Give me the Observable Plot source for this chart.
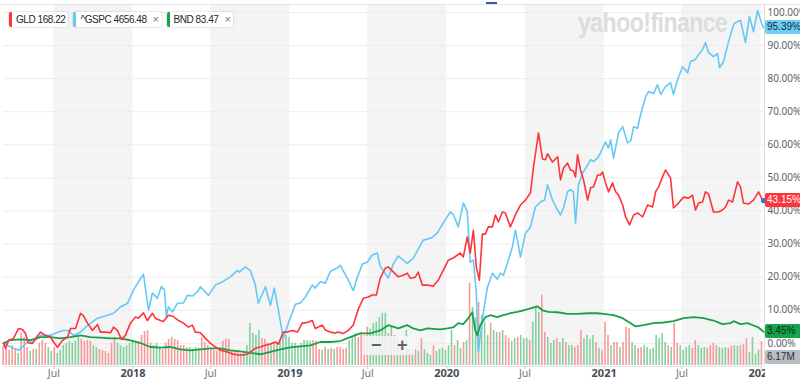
<!DOCTYPE html>
<html><head><meta charset="utf-8">
<script src="https://cdn.jsdelivr.net/npm/d3@7"></script>
<script src="https://cdn.jsdelivr.net/npm/@observablehq/plot@0.6"></script>
<style>
html,body{margin:0;padding:0;background:#fff;}
#wrap{position:relative;width:800px;height:389px;overflow:hidden;background:#fff;font-family:"Helvetica Neue",Helvetica,Arial,"Liberation Sans",sans-serif;}
#wrap svg{position:absolute;left:0;top:0;}
#chips{position:absolute;left:9px;top:12px;display:flex;gap:5px;}
.chip{position:relative;height:15px;line-height:15px;background:#fff;box-shadow:0 0 2px rgba(0,0,0,.28);border-radius:2px;font-size:10px;letter-spacing:-0.45px;color:#26282a;padding:0 3px 0 7px;white-space:nowrap;}
.chip .bar{position:absolute;left:0;top:0;width:3px;height:15px;border-radius:2px 0 0 2px;}
.chip .x{color:#6e7780;margin-left:6px;font-size:11px;}
.badge{position:absolute;left:765px;width:35px;height:14px;line-height:14px;font-size:10px;padding-left:2px;border-radius:2px 0 0 2px;box-sizing:border-box;white-space:nowrap;overflow:hidden;}
#wm{position:absolute;left:578px;top:7px;font-size:23px;font-weight:bold;color:#dcdde0;letter-spacing:-0.5px;transform:scale(1,1.2);transform-origin:left top;}
#topline{position:absolute;left:0;top:4px;width:800px;height:1px;background:#e4e4e4;}
#dash{position:absolute;left:486px;top:2px;width:11px;height:2px;background:#3f51b5;}
#zoomctl{position:absolute;left:362px;top:336px;width:53px;height:19px;background:rgba(246,246,246,0.85);border-radius:3px;color:#5f6368;font-size:18px;font-weight:bold;line-height:19px;}
#zoomctl span{position:absolute;top:0;}
#cover{position:absolute;left:765px;top:368px;width:35px;height:21px;background:#fff;}
</style></head>
<body><div id="wrap"></div>
<script>
// ---------- data ----------
// series: [decimal year, % change]
const gspcSeries = [[2017.175,0],[2017.220,-1.1],[2017.271,-2.1],[2017.328,0.4],[2017.366,0.4],[2017.411,2.4],[2017.474,2.4],[2017.525,3.4],[2017.557,3.9],[2017.589,3.9],[2017.621,2.4],[2017.666,3.4],[2017.710,5.4],[2017.774,7.6],[2017.838,8.5],[2017.876,9.1],[2017.920,11.0],[2017.965,12.1],[2018.003,16.1],[2018.035,18.6],[2018.067,20.9],[2018.099,10.0],[2018.124,15.2],[2018.156,13.6],[2018.181,17.2],[2018.201,16.1],[2018.213,8.0],[2018.226,11.0],[2018.252,9.5],[2018.283,12.1],[2018.322,12.2],[2018.347,14.5],[2018.379,14.3],[2018.411,15.6],[2018.430,17.1],[2018.481,14.5],[2018.525,17.6],[2018.570,18.6],[2018.621,20.1],[2018.666,22.1],[2018.678,21.5],[2018.716,23.1],[2018.748,22.0],[2018.780,17.6],[2018.799,12.1],[2018.844,17.1],[2018.876,11.5],[2018.901,16.7],[2018.927,10.0],[2018.958,1.5],[2018.990,6.1],[2019.035,11.8],[2019.067,12.2],[2019.099,14.0],[2019.143,17.6],[2019.162,16.7],[2019.194,18.6],[2019.226,18.2],[2019.258,21.8],[2019.302,22.8],[2019.321,23.6],[2019.366,19.7],[2019.404,15.9],[2019.430,20.0],[2019.462,24.0],[2019.493,24.5],[2019.525,26.7],[2019.557,27.3],[2019.576,23.3],[2019.627,19.7],[2019.659,24.0],[2019.691,26.4],[2019.748,24.2],[2019.786,25.7],[2019.850,31.2],[2019.876,31.5],[2019.907,32.0],[2019.939,33.3],[2019.978,36.4],[2020.022,39.7],[2020.041,39.0],[2020.073,35.2],[2020.105,42.4],[2020.130,40.0],[2020.149,24.5],[2020.169,25.2],[2020.188,15.2],[2020.200,-2.7],[2020.232,9.1],[2020.258,16.9],[2020.290,21.2],[2020.321,19.4],[2020.341,21.2],[2020.360,20.6],[2020.385,24.2],[2020.417,29.1],[2020.436,34.2],[2020.449,31.2],[2020.468,26.1],[2020.500,33.3],[2020.532,35.2],[2020.563,41.2],[2020.595,42.7],[2020.621,43.3],[2020.640,47.9],[2020.672,43.3],[2020.704,40.3],[2020.723,38.8],[2020.742,41.0],[2020.767,45.8],[2020.786,46.5],[2020.805,45.8],[2020.818,36.4],[2020.837,47.9],[2020.863,51.5],[2020.895,53.9],[2020.914,55.5],[2020.933,55.0],[2020.958,56.0],[2020.977,57.6],[2021.009,60.9],[2021.028,59.0],[2021.041,61.5],[2021.060,56.0],[2021.092,63.6],[2021.118,65.5],[2021.149,60.6],[2021.169,61.2],[2021.188,65.5],[2021.213,65.0],[2021.232,69.1],[2021.264,74.5],[2021.283,76.1],[2021.315,75.5],[2021.340,78.2],[2021.360,75.2],[2021.391,77.6],[2021.423,78.8],[2021.442,75.2],[2021.468,79.7],[2021.500,83.6],[2021.519,82.7],[2021.532,81.8],[2021.551,85.2],[2021.582,85.8],[2021.602,87.3],[2021.627,88.8],[2021.646,90.9],[2021.665,87.9],[2021.697,86.7],[2021.723,87.6],[2021.735,83.3],[2021.761,85.2],[2021.793,91.2],[2021.825,96.4],[2021.850,97.3],[2021.869,97.6],[2021.901,90.9],[2021.926,98.8],[2021.952,94.2],[2021.978,100.6],[2022.009,96.0],[2022.016,95.39]];

const gldSeries = [[2017.175,0],[2017.188,-1.5],[2017.207,0.9],[2017.239,1.5],[2017.271,4.5],[2017.296,4.2],[2017.315,3.0],[2017.334,0.1],[2017.360,0],[2017.379,1.5],[2017.411,3.4],[2017.443,2.4],[2017.474,2.0],[2017.494,0.4],[2017.519,-1.2],[2017.551,0.9],[2017.583,1.9],[2017.602,4.5],[2017.634,4.5],[2017.666,9.1],[2017.685,8.3],[2017.710,6.1],[2017.742,3.9],[2017.774,5.7],[2017.793,3.4],[2017.825,3.4],[2017.857,3.2],[2017.876,4.9],[2017.901,3.9],[2017.927,1.2],[2017.952,2.4],[2017.984,6.1],[2018.016,8.0],[2018.035,7.6],[2018.067,9.2],[2018.092,6.9],[2018.124,9.1],[2018.143,7.6],[2018.175,6.9],[2018.194,6.6],[2018.226,8.5],[2018.258,8.1],[2018.290,6.9],[2018.322,6.1],[2018.353,4.9],[2018.379,5.5],[2018.398,3.4],[2018.430,3.2],[2018.462,1.5],[2018.494,0],[2018.525,-1.1],[2018.557,-2.1],[2018.602,-2.6],[2018.640,-3.3],[2018.685,-3.6],[2018.729,-3.3],[2018.748,-2.6],[2018.780,-1.5],[2018.812,-1.1],[2018.844,-0.6],[2018.876,-0.2],[2018.908,0.4],[2018.927,-0.2],[2018.958,3.4],[2018.984,3.4],[2019.016,3.9],[2019.048,3.4],[2019.079,6.1],[2019.111,6.3],[2019.143,6.9],[2019.162,4.5],[2019.207,5.5],[2019.226,4.0],[2019.258,3.4],[2019.290,3.1],[2019.309,3.4],[2019.341,3.0],[2019.372,3.9],[2019.404,5.5],[2019.436,10.3],[2019.468,13.6],[2019.500,14.0],[2019.525,14.6],[2019.551,14.6],[2019.576,19.7],[2019.608,22.7],[2019.627,23.1],[2019.659,21.6],[2019.691,20.1],[2019.723,20.6],[2019.748,21.2],[2019.767,19.7],[2019.799,20.0],[2019.818,21.5],[2019.844,17.6],[2019.876,17.6],[2019.914,17.3],[2019.946,19.1],[2019.978,22.1],[2020.009,25.1],[2020.041,25.8],[2020.086,27.3],[2020.105,26.1],[2020.130,32.1],[2020.149,27.3],[2020.169,34.2],[2020.188,23.0],[2020.207,19.1],[2020.226,33.0],[2020.245,33.0],[2020.264,35.2],[2020.290,35.2],[2020.309,38.8],[2020.328,36.7],[2020.353,39.7],[2020.372,39.4],[2020.404,35.2],[2020.436,38.8],[2020.468,41.8],[2020.500,43.3],[2020.532,45.5],[2020.551,53.3],[2020.583,63.6],[2020.608,55.8],[2020.627,55.5],[2020.640,57.3],[2020.672,54.8],[2020.704,56.4],[2020.723,49.4],[2020.742,53.0],[2020.767,54.5],[2020.786,52.4],[2020.805,52.1],[2020.818,50.3],[2020.831,57.0],[2020.850,52.4],[2020.869,49.4],[2020.895,43.3],[2020.914,47.0],[2020.933,47.3],[2020.958,50.9],[2020.977,50.9],[2020.990,51.8],[2021.009,48.5],[2021.028,45.8],[2021.054,48.5],[2021.073,45.8],[2021.092,44.8],[2021.118,41.8],[2021.137,38.2],[2021.162,35.8],[2021.188,38.8],[2021.213,39.4],[2021.245,38.2],[2021.277,41.8],[2021.309,41.2],[2021.328,45.8],[2021.347,47.3],[2021.372,50.3],[2021.391,52.4],[2021.423,50.0],[2021.442,40.9],[2021.474,42.4],[2021.506,44.2],[2021.538,43.9],[2021.563,44.8],[2021.582,40.3],[2021.602,42.4],[2021.627,42.7],[2021.646,45.8],[2021.665,45.2],[2021.697,39.7],[2021.729,39.7],[2021.754,40.3],[2021.774,41.2],[2021.793,43.3],[2021.818,42.7],[2021.850,48.8],[2021.869,47.3],[2021.888,42.4],[2021.920,42.1],[2021.952,43.3],[2021.984,45.8],[2022.009,43.3],[2022.016,43.15]];

const bndSeries = [[2017.175,0],[2017.220,1.0],[2017.283,1.2],[2017.347,1.0],[2017.411,1.9],[2017.474,1.9],[2017.538,1.5],[2017.602,1.9],[2017.666,2.4],[2017.729,1.9],[2017.793,1.7],[2017.857,1.5],[2017.920,1.5],[2017.984,0.9],[2018.048,0.1],[2018.111,-1.1],[2018.175,-1.3],[2018.239,-1.1],[2018.302,-1.8],[2018.366,-2.1],[2018.430,-1.8],[2018.494,-1.5],[2018.557,-1.5],[2018.621,-2.1],[2018.685,-2.4],[2018.748,-2.9],[2018.812,-3.3],[2018.876,-2.6],[2018.939,-1.8],[2019.003,-1.2],[2019.067,-0.9],[2019.130,-0.6],[2019.194,0.4],[2019.258,0.4],[2019.321,0.7],[2019.385,1.9],[2019.449,3.0],[2019.513,3.0],[2019.576,3.9],[2019.627,5.5],[2019.691,4.5],[2019.748,5.5],[2019.786,4.5],[2019.831,3.9],[2019.876,4.5],[2019.958,4.2],[2020.003,4.5],[2020.041,4.8],[2020.073,6.1],[2020.105,5.8],[2020.137,7.6],[2020.162,9.4],[2020.181,3.9],[2020.194,2.4],[2020.213,5.5],[2020.245,7.9],[2020.277,8.5],[2020.321,7.9],[2020.360,8.5],[2020.404,9.1],[2020.449,9.5],[2020.487,10.0],[2020.532,10.6],[2020.576,11.2],[2020.608,10.0],[2020.646,9.5],[2020.704,9.4],[2020.767,8.9],[2020.831,8.9],[2020.895,9.1],[2020.958,9.1],[2020.997,8.9],[2021.060,8.5],[2021.118,7.6],[2021.169,6.1],[2021.200,5.1],[2021.251,5.5],[2021.315,6.1],[2021.379,6.3],[2021.442,6.7],[2021.506,7.6],[2021.570,7.9],[2021.633,7.6],[2021.697,6.9],[2021.754,5.8],[2021.805,6.1],[2021.825,6.7],[2021.869,5.8],[2021.914,6.1],[2021.952,5.4],[2021.984,4.8],[2022.016,3.45]];

// weekly volume (millions) and direction (r = down week, g = up week)
const volumeStart = "2017-03-05";
const volumeValues = [4.9,4.4,3.9,5.1,4.1,3.1,8.2,7.2,4.6,3.6, 4.1,4.1,5.7,6.4,5.7,4.6,3.6,4.6,3.1,3.9, 5.1,5.7,6.2,5.7,6.2,7.5,6.7,6.2,6.4,6.2, 5.1,4.6,4.1,3.9,3.6,3.1,5.7,7.2,5.7,5.1, 4.6,5.1,5.7,6.2,5.7,6.2,7.7,8.7,9.0,5.7, 5.1,5.7,4.6,4.1,5.7,6.7,7.2,6.7,6.4,5.1, 5.1,4.6,4.6,4.1,4.6,4.4,7.2,5.9,5.1,4.1, 3.9,3.6,3.9,6.2,6.7,6.7,3.9,3.6,3.3,3.1, 3.6,5.1,10.8,8.2,7.7,9.0,6.9,6.7,5.7,5.7, 5.7,5.7,6.2,7.7,7.7,7.2,5.7,5.7,5.1,5.7, 6.4,6.4,6.2,6.4,6.2,4.1,3.9,4.6,4.1,4.4, 4.1,4.6,4.6,4.1,4.4,6.4,7.2,8.2,7.2,8.5, 7.7,9.8,9.3,10.8,11.1,12.3,13.4,13.4,8.2,9.8, 7.7,6.7,5.1,4.6,9.0,4.1,4.1,4.1,3.6,6.9, 4.1,3.1,2.6,5.1,3.6,4.1,4.4,3.9,5.1,9.0, 5.1,6.4,4.4,5.9,6.4,21.1,14.9,12.3,16.2,12.9, 11.1,7.7,10.8,9.0,8.5,8.5,9.0,7.7,6.9,6.2, 6.9,7.2,7.7,6.9,6.9,6.4,11.1,14.9,13.6,18.0, 8.5,7.2,5.7,6.4,6.9,5.9,6.9,5.9,5.1,5.1, 4.6,5.1,9.0,6.9,7.7,6.7,7.7,5.9,4.4,3.9, 11.1,7.7,5.1,5.9,5.9,4.6,5.9,9.8,9.5,5.9, 5.1,4.4,4.6,5.1,4.6,4.1,4.4,7.7,6.9,8.2, 5.9,5.1,4.6,10.8,5.7,5.1,3.9,4.6,5.1,4.4, 6.4,5.1,4.4,4.6,4.4,5.1,5.7,5.1,4.6,4.4, 4.6,4.4,4.9,5.1,4.9,5.1,5.4,6.9,3.3,7.2, 2.8,3.9,6.17];
const volumeDirs = ("rrrrrgrrrg"+"rgrrrggrgg"+"ggggggrrrr"+"ggrrrrrrgg"+"gggggrrrrr"+"gggrrrrrrr"+"rrggggrrrr"+"rrrrrrrrrr"+"ggggggrrrg"+"rggggggggg"+"gggrrrgrgr"+"grrrrgggrr"+"rrggggggrg"+"rggrgrgrgr"+"gggrgggggg"+"rggrgrggrg"+"ggrggrgrrg"+"grgggrgggr"+"rgggrggrgg"+"rrrggggrgr"+"rrgrrgrrrg"+"grrggggggg"+"grgrrggggr"+"rgggrrrrgg"+"grrggrrrgg"+"ggr").split("");

const yTicks = [0,10,20,30,40,50,60,70,80,90,100];
const xTickDates = ["2017-07-01","2018-01-01","2018-07-01","2019-01-01","2019-07-01","2020-01-01","2020-07-01","2021-01-01","2021-07-01","2022-01-01"];
const xTickLabels = ["Jul","2018","Jul","2019","Jul","2020","Jul","2021","Jul","2022"];
const bandStarts = ["2017-07-01","2018-07-01","2019-07-01","2020-07-01","2021-07-01"];
const bandEnds   = ["2018-01-01","2019-01-01","2020-01-01","2021-01-01","2022-01-01"];
const legendNames = ["GLD","^GSPC","BND"];
const legendPrices = ["168.22","4656.48","83.47"];
const lastLabels = ["95.39%","43.15%","3.45%"];
const lastVolumeLabel = "6.17M";
const domainStart = 2017.175, domainEnd = 2022.022;

// ---------- helpers ----------
const COLORS = {gld:"#ff333a", gspc:"#66c8f5", bnd:"#17a14b"};
function toDate(t){const y=Math.floor(t);const a=Date.UTC(y,0,1),b=Date.UTC(y+1,0,1);return new Date(a+(t-y)*(b-a));}
const W=800,H=389,ML=3,MR=36;
const xDom=[toDate(domainStart),toDate(domainEnd)];
const yDom=[-7,102.42];
const base = {width:W,height:H,marginLeft:ML,marginRight:MR,marginTop:4,marginBottom:23,
  x:{type:"utc",domain:xDom,axis:null}, y:{domain:yDom,axis:null}, color:{type:"identity"}};

const bands = bandStarts.map((s,i)=>({x1:new Date(s),x2:new Date(bandEnds[i])}));
const xTicks = xTickDates.map((d,i)=>({date:new Date(d),label:xTickLabels[i],year:xTickLabels[i]!=="Jul"}));
const vol = volumeValues.map((v,i)=>({date:new Date(Date.parse(volumeStart)+i*7*864e5),v,dir:volumeDirs[i]}));

const wrap=document.getElementById("wrap");

// layer A: bands + grid
const pA = Plot.plot({...base, style:{background:"#fff"}, marks:[
  Plot.rect(bands,{x1:"x1",x2:"x2",y1:yDom[0],y2:yDom[1],fill:"#f4f4f4"}),
  Plot.ruleY(yTicks,{stroke:"#ececec",strokeWidth:1}),
  Plot.ruleY([yDom[0]],{stroke:"#e6e6e6"}),
  Plot.ruleX([xDom[1]],{stroke:"#dcdcdc"}),
  Plot.ruleX(xTicks,{x:"date",y1:yDom[0],y2:yDom[0]-0.9,stroke:"#c8c8c8"})
]});
wrap.appendChild(pA);

const wm=document.createElement("div");wm.id="wm";wm.textContent="yahoo!finance";wrap.appendChild(wm);

// layer B: volume
const pB = Plot.plot({width:W,height:H,marginLeft:ML,marginRight:MR,marginTop:248,marginBottom:24,
  x:{type:"utc",domain:xDom,axis:null}, y:{domain:[0,30],axis:null}, color:{type:"identity"},
  style:{background:"transparent"}, marks:[
  Plot.ruleX(vol,{x:"date",y1:0,y2:"v",stroke:d=>d.dir==="r"?"#f59a9a":"#86cf9f",strokeWidth:1.6})
]});
wrap.appendChild(pB);

// layer C: lines + labels
const gldLast = gldSeries[gldSeries.length-1];
const pC = Plot.plot({...base, style:{background:"transparent",overflow:"visible"}, marks:[
  Plot.line(gspcSeries,{x:d=>toDate(d[0]),y:d=>d[1],stroke:COLORS.gspc,strokeWidth:1.6}),
  Plot.line(bndSeries,{x:d=>toDate(d[0]),y:d=>d[1],stroke:COLORS.bnd,strokeWidth:1.8}),
  Plot.line(gldSeries,{x:d=>toDate(d[0]),y:d=>d[1],stroke:COLORS.gld,strokeWidth:1.6}),
  Plot.dot([gldLast],{x:d=>toDate(d[0]),y:d=>d[1],r:2.6,fill:"#2f6fe4"}),
  Plot.text(yTicks,{y:d=>d,frameAnchor:"right",dx:3,textAnchor:"start",text:d=>d.toFixed(2)+"%",fontSize:10,fill:"#5b636a"}),
  Plot.text(xTicks.filter(d=>d.year),{x:"date",frameAnchor:"bottom",dy:10,text:"label",fontSize:11,fontWeight:"bold",fill:"#464e56"}),
  Plot.text(xTicks.filter(d=>!d.year),{x:"date",frameAnchor:"bottom",dy:10,text:"label",fontSize:10.5,fill:"#6e7780"})
]});
wrap.appendChild(pC);

// overlays
const yS = pC.scale("y"), vS = pB.scale("y");
function add(html,parent){const t=document.createElement("div");t.innerHTML=html;const el=t.firstChild;(parent||wrap).appendChild(el);return el;}
add('<div id="topline"></div>');
add('<div id="dash"></div>');
add('<div id="zoomctl"><span style="left:9px">\u2212</span><span style="left:35px">+</span></div>');
add('<div id="cover"></div>');
const chips = add('<div id="chips"></div>');
const chipCol=[COLORS.gld,COLORS.gspc,COLORS.bnd];
legendNames.forEach((n,i)=>{
  add(`<div class="chip"><span class="bar" style="background:${chipCol[i]}"></span>${n} ${legendPrices[i]}${i>0?'<span class="x">\u00d7</span>':''}</div>`, chips);
});
const lastVals=[gspcSeries[gspcSeries.length-1][1],gldLast[1],bndSeries[bndSeries.length-1][1]];
const badgeStyle=[["#6dcff6","#0f2a3a"],["#ff333a","#fff"],["#16a34a","#0b2614"]];
[0,1,2].forEach(i=>{
  const cy=yS.apply(lastVals[i]);
  add(`<div class="badge" style="top:${(cy-7).toFixed(1)}px;background:${badgeStyle[i][0]};color:${badgeStyle[i][1]}">${lastLabels[i]}</div>`);
});
add(`<div class="badge" style="top:${(vS.apply(0)-15).toFixed(1)}px;background:#b9bdc3;color:#2c2f33">${lastVolumeLabel}</div>`);
</script></body></html>
